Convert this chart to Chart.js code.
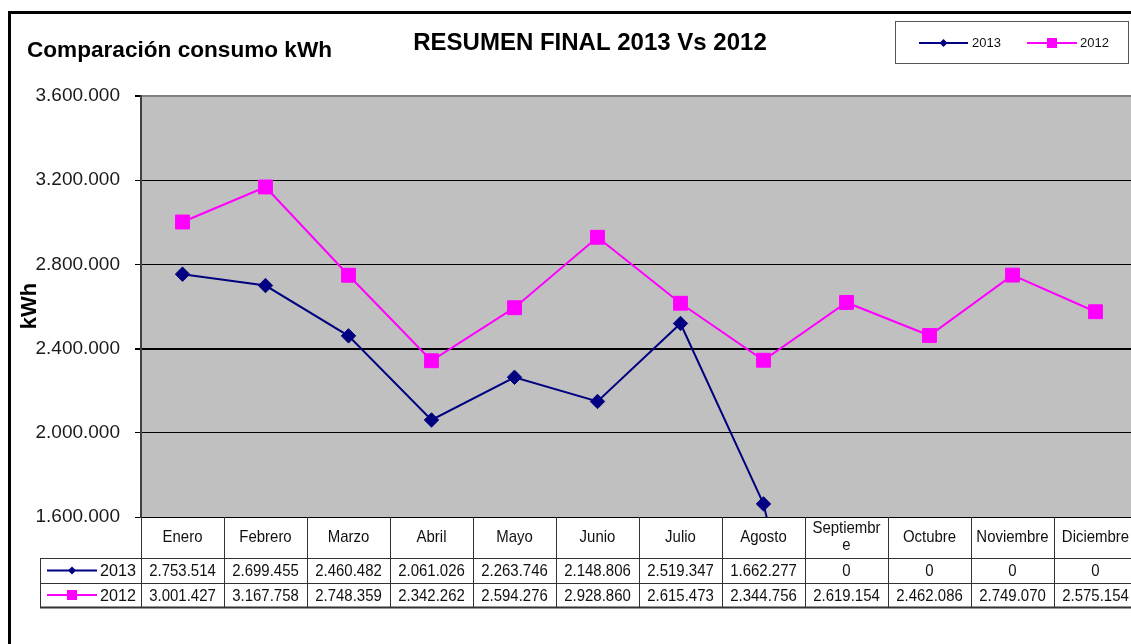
<!DOCTYPE html>
<html>
<head>
<meta charset="utf-8">
<script src="https://cdn.jsdelivr.net/npm/chart.js@4.4.0/dist/chart.umd.min.js"></script>
<style>
  html, body { margin: 0; padding: 0; background: #fff; overflow: hidden; }
  #consumo { display: block; }
</style>
</head>
<body>
<canvas id="consumo" width="1131" height="644"></canvas>
<script>
// monthly consumption, kWh
const months = ['Enero', 'Febrero', 'Marzo', 'Abril', 'Mayo', 'Junio', 'Julio', 'Agosto',
  'Septiembre', 'Octubre', 'Noviembre', 'Diciembre'];
const kwh2013 = [2753514, 2699455, 2460482, 2061026, 2263746, 2148806, 2519347, 1662277, 0, 0, 0, 0];
const kwh2012 = [3001427, 3167758, 2748359, 2342262, 2594276, 2928860, 2615473, 2344756, 2619154, 2462086, 2749070, 2575154];
const yTicks = [1600000, 2000000, 2400000, 2800000, 3200000, 3600000];

const seriesNames = ['2013', '2012'];
const seriesColors = ['#000080', '#ff00ff'];

const FONT = "'Liberation Sans', Arial, sans-serif";
const PLOT_RIGHT = 1137; // plot runs slightly past the canvas edge

// 1234567 -> 1.234.567
const fmt = n => String(n).replace(/\B(?=(\d{3})+(?!\d))/g, '.');

// condensed text, like the old spreadsheet rendering
function narrowText(ctx, str, x, y, sx) {
  ctx.save();
  ctx.translate(x, y);
  ctx.scale(sx, 1);
  ctx.fillText(str, 0, 0);
  ctx.restore();
}

function marker(ctx, kind, x, y, color) {
  ctx.fillStyle = color;
  ctx.beginPath();
  if (kind === 'diamond') {
    ctx.moveTo(x, y - 4); ctx.lineTo(x + 4, y); ctx.lineTo(x, y + 4); ctx.lineTo(x - 4, y);
  } else {
    ctx.rect(x - 5, y - 5, 10, 10);
  }
  ctx.closePath();
  ctx.fill();
}

function keyLine(ctx, x1, x2, y, i) {
  ctx.strokeStyle = seriesColors[i];
  ctx.lineWidth = 2;
  ctx.beginPath();
  ctx.moveTo(x1, y); ctx.lineTo(x2, y);
  ctx.stroke();
  marker(ctx, i === 0 ? 'diamond' : 'square', (x1 + x2) / 2, y, seriesColors[i]);
}

const frame = {
  id: 'frame',
  afterLayout(chart) {
    const a = chart.chartArea;
    const x = chart.scales.x;
    a.right = PLOT_RIGHT;
    a.width = a.right - a.left;
    x.right = PLOT_RIGHT;
    x.width = x.right - x.left;
    x.configure();
  },
  beforeDraw(chart) {
    const { ctx, chartArea: a } = chart;
    ctx.save();
    ctx.fillStyle = '#fff';
    ctx.fillRect(0, 0, chart.width, chart.height);
    ctx.fillStyle = '#c0c0c0';
    ctx.fillRect(a.left, a.top, a.right - a.left, a.bottom - a.top);
    ctx.restore();
  },
  afterDraw(chart) {
    const { ctx, chartArea: a } = chart;
    const x = chart.scales.x;
    const colW = x.getPixelForValue(1) - x.getPixelForValue(0);
    const rowTop = a.bottom, rowHead = a.bottom + 41, row1 = rowHead + 25, row2 = row1 + 24;
    const keyLeft = 40;

    ctx.save();

    // data table under the plot
    ctx.strokeStyle = '#333';
    ctx.lineWidth = 1;
    ctx.beginPath();
    [rowHead, row1].forEach(y => { ctx.moveTo(keyLeft, y + 0.5); ctx.lineTo(a.right, y + 0.5); });
    ctx.moveTo(keyLeft + 0.5, rowHead); ctx.lineTo(keyLeft + 0.5, row2);
    for (let i = 0; i <= months.length; i++) {
      const bx = Math.round(x.getPixelForValue(i) - colW / 2) + 0.5;
      ctx.moveTo(bx, rowTop); ctx.lineTo(bx, row2);
    }
    ctx.stroke();
    ctx.lineWidth = 2;
    ctx.beginPath();
    ctx.moveTo(keyLeft, row2 + 0.5); ctx.lineTo(a.right, row2 + 0.5);
    ctx.stroke();

    ctx.fillStyle = '#111';
    ctx.textAlign = 'center';
    ctx.textBaseline = 'middle';
    ctx.font = '17px ' + FONT;
    const sx = 0.88;
    const fitW = colW - 9;
    months.forEach((m, i) => {
      const cx = x.getPixelForValue(i);
      if (ctx.measureText(m).width * sx > fitW) {
        // wrap long month names inside the cell
        let cut = m.length;
        while (cut > 1 && ctx.measureText(m.slice(0, cut)).width * sx > fitW) cut--;
        narrowText(ctx, m.slice(0, cut), cx, rowTop + 11, sx);
        narrowText(ctx, m.slice(cut), cx, rowTop + 28, sx);
      } else {
        narrowText(ctx, m, cx, rowTop + 20, sx);
      }
    });
    [kwh2013, kwh2012].forEach((vals, s) => {
      const cy = (s === 0 ? rowHead + row1 : row1 + row2) / 2 + 1;
      vals.forEach((v, i) => {
        ctx.fillStyle = '#111';
        narrowText(ctx, fmt(v), x.getPixelForValue(i), cy, sx);
      });
      keyLine(ctx, 47, 97, cy - 1, s);
      ctx.fillStyle = '#111';
      ctx.textAlign = 'left';
      narrowText(ctx, seriesNames[s], 100, cy, 0.95);
      ctx.textAlign = 'center';
    });

    // legend box
    ctx.strokeStyle = '#555';
    ctx.lineWidth = 1;
    ctx.strokeRect(895.5, 21.5, 233, 42);
    ctx.font = '13px ' + FONT;
    ctx.textAlign = 'left';
    keyLine(ctx, 919, 968, 43, 0);
    keyLine(ctx, 1027, 1077, 43, 1);
    ctx.fillStyle = '#111';
    ctx.fillText(seriesNames[0], 972, 43);
    ctx.fillText(seriesNames[1], 1080, 43);

    // titles
    ctx.fillStyle = '#000';
    ctx.textBaseline = 'alphabetic';
    ctx.font = 'bold 22.6px ' + FONT;
    ctx.fillText('Comparación consumo kWh', 27, 57);
    ctx.textAlign = 'center';
    ctx.font = 'bold 24px ' + FONT;
    ctx.fillText('RESUMEN FINAL 2013 Vs 2012', 590, 50);

    // axis title
    ctx.save();
    ctx.translate(36, 306);
    ctx.rotate(-Math.PI / 2);
    ctx.font = 'bold 22px ' + FONT;
    ctx.textBaseline = 'alphabetic';
    ctx.fillText('kWh', 0, 0);
    ctx.restore();

    // outer frame
    ctx.strokeStyle = '#000';
    ctx.lineWidth = 3;
    ctx.beginPath();
    ctx.moveTo(9.5, chart.height);
    ctx.lineTo(9.5, 12.5);
    ctx.lineTo(chart.width, 12.5);
    ctx.stroke();

    ctx.restore();
  }
};

new Chart(document.getElementById('consumo'), {
  type: 'line',
  data: {
    labels: months,
    datasets: [
      {
        label: seriesNames[0],
        data: kwh2013,
        borderColor: seriesColors[0],
        backgroundColor: seriesColors[0],
        borderWidth: 2,
        pointStyle: 'rectRot',
        pointRadius: 7.2,
        pointBorderWidth: 1,
        tension: 0
      },
      {
        label: seriesNames[1],
        data: kwh2012,
        borderColor: seriesColors[1],
        backgroundColor: seriesColors[1],
        borderWidth: 2,
        pointStyle: 'rect',
        pointRadius: 9.8,
        pointBorderWidth: 1,
        tension: 0
      }
    ]
  },
  options: {
    responsive: false,
    animation: false,
    devicePixelRatio: 1,
    events: [],
    layout: { padding: { top: 96, bottom: 127, left: 0, right: 0 } },
    plugins: { legend: { display: false }, tooltip: { enabled: false } },
    scales: {
      x: { type: 'category', offset: true, display: false },
      y: {
        min: yTicks[0],
        max: yTicks[yTicks.length - 1],
        afterFit(scale) { scale.width = 141; },
        afterBuildTicks(scale) { scale.ticks = yTicks.map(v => ({ value: v })); },
        border: { color: '#404040', width: 2 },
        grid: {
          color: c => c.tick && c.tick.value === yTicks[yTicks.length - 1] ? '#808080' : '#000',
          lineWidth: c => c.tick && (c.tick.value === 2400000 || c.tick.value === yTicks[yTicks.length - 1]) ? 2 : 1,
          tickLength: 6,
          tickColor: '#000'
        },
        ticks: {
          padding: 15,
          color: '#1a1a1a',
          font: { family: 'Liberation Sans', size: 19 },
          callback: v => fmt(v)
        }
      }
    }
  },
  plugins: [frame]
});
</script>
</body>
</html>
